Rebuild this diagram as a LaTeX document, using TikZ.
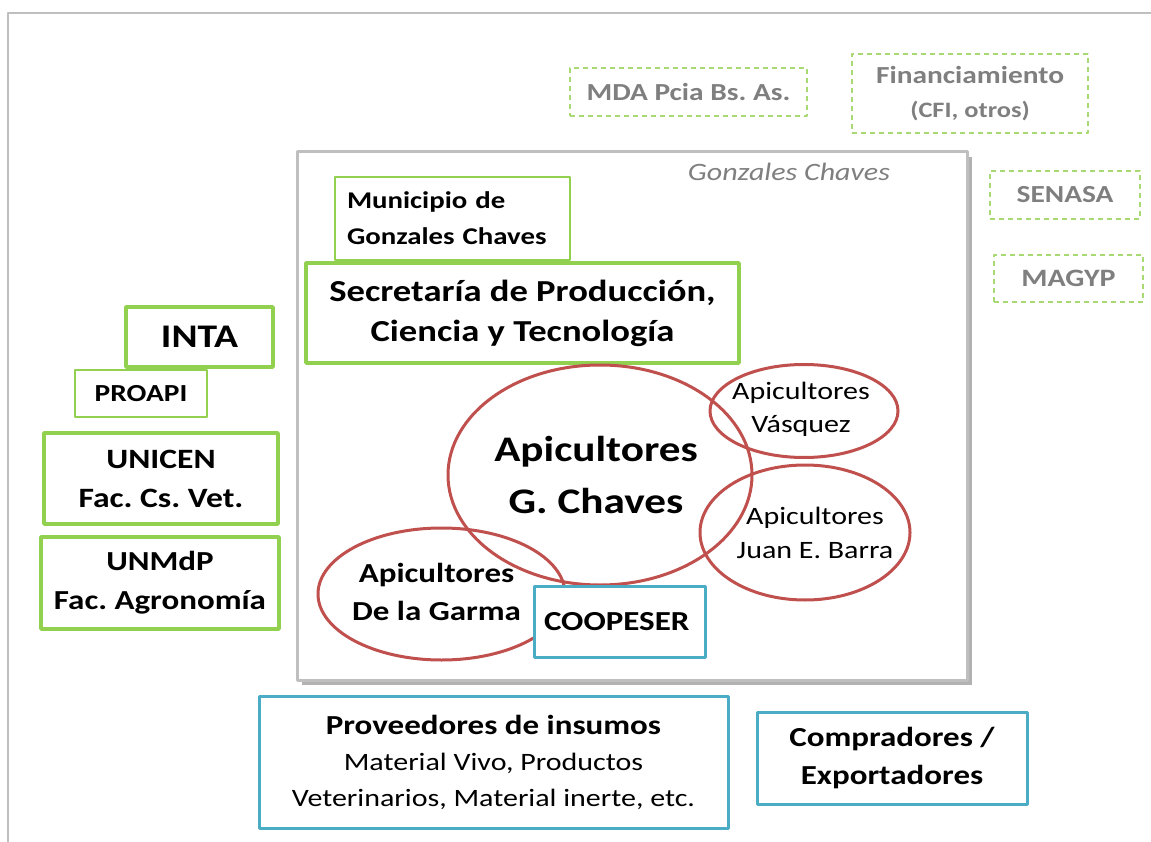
\documentclass[tikz,border=0pt]{standalone}
\usepackage{fontspec}
\setmainfont{Carlito}[FakeStretch=1.2]
\usetikzlibrary{shapes.geometric}
\definecolor{verde}{HTML}{92D050}
\definecolor{rojo}{HTML}{C0504D}
\definecolor{azul}{HTML}{4BACC6}
\definecolor{gristxt}{HTML}{7F7F7F}
\definecolor{marco}{HTML}{BFBFBF}
\newcommand{\tam}[2]{\fontsize{#1}{#2}\selectfont}
\frenchspacing
\tikzset{
  caja/.style={draw=verde, line width=3.5pt, fill=white, align=center, inner sep=0pt, font=\bfseries},
  cajafina/.style={caja, line width=1.5pt},
  cajaext/.style={draw=verde!80, dashed, dash pattern=on 5pt off 4pt, line width=1.5pt, align=center,
    inner sep=0pt, text=gristxt, font=\bfseries},
  cajaazul/.style={draw=azul, line width=3pt, fill=white, align=center, inner sep=0pt},
  grupo/.style={ellipse, draw=rojo, line width=3pt, inner sep=0pt},
  rotulo/.style={align=center, inner sep=0pt}
}
\begin{document}
\begin{tikzpicture}[x=1pt, y=-1pt, line join=round]
  \useasboundingbox (0,0) rectangle (1151,842);
  \draw[marco, line width=1.5pt] (8,842) -- (8,13) -- (1151,13);
  % partido
  \fill[black!30] (302,157) rectangle (972,685);
  \draw[marco, fill=white, line width=3pt] (297,152) rectangle (967,680);
  \node[text=gristxt, font=\itshape\tam{25}{30}] (partido) at (789,172) {Gonzales Chaves};
  \node[cajafina, minimum height=83pt, text width=211pt, inner xsep=12pt, align=left, font=\bfseries\tam{24}{36}]
    (muni) at (452.5,218.5) {Municipio de\\Gonzales Chaves};
  \node[caja, minimum width=433pt, minimum height=100pt, font=\bfseries\tam{30.5}{40}]
    (secre) at (522.5,313) {Secretaría de Producción,\\Ciencia y Tecnología};
  % apicultores
  \node[grupo, minimum width=304pt, minimum height=220pt,
    label={[rotulo, font=\bfseries\tam{36}{52}, xshift=-4pt]center:Apicultores\\G. Chaves}]
    (gchaves) at (600,475) {};
  \node[grupo, minimum width=188pt, minimum height=93pt,
    label={[rotulo, font=\tam{25}{33}, xshift=-3pt, yshift=2pt]center:Apicultores\\Vásquez}]
    (vasquez) at (804,411) {};
  \node[grupo, minimum width=210pt, minimum height=135pt,
    label={[rotulo, font=\tam{25}{34}, xshift=10pt]center:Apicultores\\Juan E. Barra}]
    (barra) at (805,532.5) {};
  \node[grupo, minimum width=247pt, minimum height=132pt,
    label={[rotulo, font=\bfseries\tam{27.5}{38}, xshift=-5pt, yshift=2pt]center:Apicultores\\De la Garma}]
    (garma) at (441.5,594) {};
  \node[cajaazul, minimum width=171pt, minimum height=71pt, text width=151pt, align=left,
    inner xsep=9pt, font=\bfseries\tam{27.5}{34}]
    (coop) at (619.5,621.5) {COOPESER};
  % instituciones
  \node[caja, minimum width=147pt, minimum height=60pt, font=\bfseries\tam{33}{40}]
    (inta) at (199.5,337) {INTA};
  \node[cajafina, minimum width=132pt, minimum height=47pt, font=\bfseries\tam{24.5}{28}]
    (proapi) at (141,393.5) {PROAPI};
  \node[caja, minimum width=234pt, minimum height=91pt, font=\bfseries\tam{28}{39}]
    (unicen) at (161,478.5) {UNICEN\\Fac. Cs. Vet.};
  \node[caja, minimum width=238pt, minimum height=92pt, font=\bfseries\tam{27.5}{39}]
    (unmdp) at (160,583) {UNMdP\\Fac. Agronomía};
  % externos
  \node[cajaext, minimum width=237pt, minimum height=48pt, font=\bfseries\tam{24.5}{30}]
    (mda) at (688.5,92) {MDA Pcia Bs. As.};
  \node[cajaext, minimum width=236pt, minimum height=79pt, font=\bfseries\tam{24.5}{34}]
    (financ) at (970,93.5) {Financiamiento\\{\tam{22}{26}(CFI, otros)}};
  \node[cajaext, minimum width=150pt, minimum height=48pt, font=\bfseries\tam{24.5}{30}]
    (senasa) at (1065,195) {SENASA};
  \node[cajaext, minimum width=149pt, minimum height=47pt, font=\bfseries\tam{25}{30}]
    (magyp) at (1068.5,278.5) {MAGYP};
  % mercado
  \node[cajaazul, minimum width=469pt, minimum height=132pt, font=\tam{25}{36}]
    (prov) at (493.5,762) {\textbf{\tam{27.5}{37}Proveedores de insumos}\\Material Vivo, Productos\\Veterinarios, Material inerte, etc.};
  \node[cajaazul, minimum width=270pt, minimum height=92pt, font=\bfseries\tam{27.5}{38}]
    (compr) at (892,758) {Compradores /\\Exportadores};
\end{tikzpicture}
\end{document}
